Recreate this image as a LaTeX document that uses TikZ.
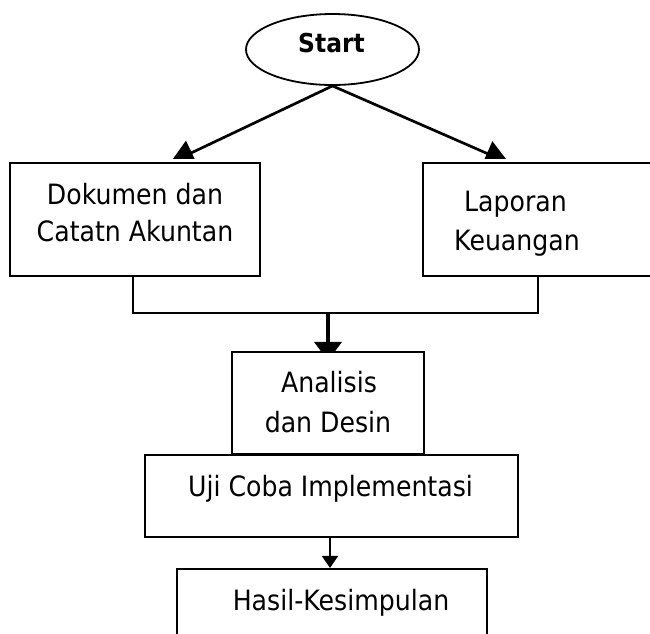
\documentclass[tikz,border=0pt]{standalone}
\usepackage{fontspec}
\setmainfont{DejaVu Sans}[FakeStretch=0.9]
\usetikzlibrary{arrows.meta,shapes.geometric,backgrounds}
\begin{document}
\begin{tikzpicture}[x=1pt,y=-1pt,
  boxnode/.style={draw,rectangle,line width=2.1pt,inner sep=0pt,fill=white},
  txt/.style={inner sep=0pt,anchor=base,font=\fontsize{28}{34}\selectfont},
  toparrow/.style={line width=2.7pt,-{Triangle[length=24pt,width=26pt]}},
  midarrow/.style={line width=3.3pt,-{Triangle[length=19pt,width=27pt]}},
  botarrow/.style={line width=1.8pt,-{Triangle[length=12pt,width=16pt]}},
  bracket/.style={line width=2.1pt}]
\useasboundingbox (0,0) rectangle (650,633);
\clip (0,0) rectangle (650,633);

% start ellipse
\node[draw,ellipse,line width=1.8pt,minimum width=173pt,minimum height=71pt,inner sep=0pt] (start) at (332.5,49.5) {};
\node[inner sep=0pt,anchor=base,font=\fontsize{26}{30}\selectfont\bfseries] (starttxt) at (331.5,52.5) {Start};

% boxes
\node[boxnode,minimum width=250pt,minimum height=113pt] (left) at (135,219.5) {};
\node[boxnode,minimum width=230pt,minimum height=113pt] (right) at (538,219.5) {};
\node[boxnode,minimum width=192pt,minimum height=102pt] (anal) at (328,403) {};
\node[boxnode,minimum width=373pt,minimum height=82pt] (uji) at (331.5,496) {};
\node[boxnode,minimum width=310pt,minimum height=81pt] (hasil) at (332,609.5) {};

% texts
\node[txt] (t1) at (135,204) {Dokumen dan};
\node[txt] (t2) at (135,241) {Catatn Akuntan};
\node[txt] (t3) at (515.5,211) {Laporan};
\node[txt] (t4) at (517,250) {Keuangan};
\node[txt] (t5) at (329,392) {Analisis};
\node[txt] (t6) at (328,432) {dan Desin};
\node[txt] (t7) at (330.5,496) {Uji Coba Implementasi};
\node[txt] (t8) at (341,610) {Hasil-Kesimpulan};

% top arrows (heads cut flat above the boxes)
\coordinate (ltip) at (170,163);
\coordinate (rtip) at (509,163);
\begin{scope}
  \clip (0,0) rectangle (650,158);
  \draw[toparrow] (start.south) -- (ltip);
  \draw[toparrow] (start.south) -- (rtip);
\end{scope}

% bracket joining the two boxes
\coordinate (join) at (328,313);
\draw[bracket] ([xshift=-2pt]left.south) |- (join) -| (right.south);

% arrow into Analisis (head partly hidden by the box)
\begin{scope}[on background layer]
  \draw[midarrow] (join) -- ([yshift=-10pt]anal.north);
\end{scope}

% arrow to Hasil
\draw[botarrow] ([xshift=-1.5pt]uji.south) -- ([xshift=-1.5pt]uji.south |- hasil.north);
\end{tikzpicture}
\end{document}
